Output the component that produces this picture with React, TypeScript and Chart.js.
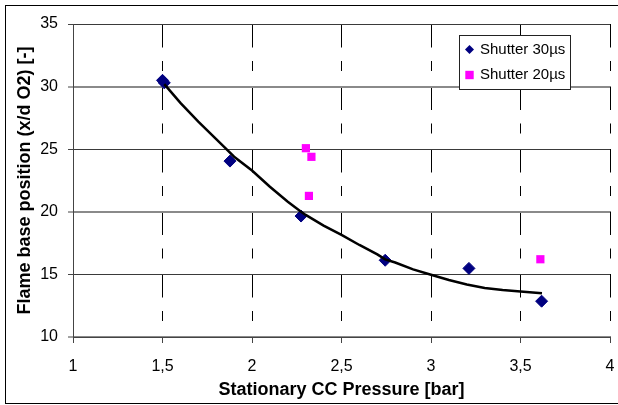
import React, { useEffect, useRef } from 'react';
import { Chart, registerables } from 'chart.js';

Chart.register(...registerables);

// ---- data ----
const seriesLabels = ['Shutter 30µs', 'Shutter 20µs'];
const shutter30X = [1.5, 1.51, 1.877, 2.274, 2.744, 3.212, 3.618];
const shutter30Y = [30.5, 30.3, 24.05, 19.66, 16.13, 15.48, 12.86];
const shutter20X = [2.301, 2.332, 2.318, 3.611];
const shutter20Y = [25.08, 24.39, 21.27, 16.21];
const trendX = [1.51, 1.6, 1.7, 1.8, 1.85, 1.9, 2.0, 2.1, 2.2, 2.274, 2.3, 2.4, 2.5, 2.6, 2.7, 2.744, 2.8, 2.9, 3.0, 3.1, 3.2, 3.3, 3.4, 3.5, 3.62];
const trendY = [30.2, 28.7, 27.2, 25.8, 25.1, 24.4, 23.3, 22.0, 20.8, 20.0, 19.75, 18.9, 18.15, 17.35, 16.6, 16.2, 15.95, 15.4, 14.97, 14.55, 14.2, 13.92, 13.75, 13.64, 13.5];
const xTicks = [1, 1.5, 2, 2.5, 3, 3.5, 4];
const yTicks = [10, 15, 20, 25, 30, 35];
const xTitle = 'Stationary CC Pressure [bar]';
const yTitle = 'Flame base position (x/d O2) [-]';

const FONT = '"Liberation Sans", Arial, sans-serif';
const NAVY = '#000080';
const MAGENTA = '#FF00FF';

const toPts = (xs: number[], ys: number[]) => xs.map((x, i) => ({ x, y: ys[i] }));

const framePlugin = {
  id: 'frameAndLegend',
  afterDraw(chart: any) {
    const ctx = chart.ctx as CanvasRenderingContext2D;
    ctx.save();
    ctx.setLineDash([]);
    // outer frame
    ctx.strokeStyle = '#000';
    ctx.lineWidth = 1;
    ctx.strokeRect(5.5, 5.5, 640, 398);
    // legend box
    const lx = 459.5, ly = 35.5, lw = 111, lh = 54;
    ctx.fillStyle = '#fff';
    ctx.fillRect(lx, ly, lw, lh);
    ctx.strokeStyle = '#222';
    ctx.strokeRect(lx, ly, lw, lh);
    // diamond
    const cx = 469.5;
    const y1 = 49.5, y2 = 75;
    ctx.fillStyle = NAVY;
    ctx.beginPath();
    ctx.moveTo(cx, y1 - 4.5);
    ctx.lineTo(cx + 4.5, y1);
    ctx.lineTo(cx, y1 + 4.5);
    ctx.lineTo(cx - 4.5, y1);
    ctx.closePath();
    ctx.fill();
    // square
    ctx.fillStyle = MAGENTA;
    ctx.fillRect(cx - 4.2, y2 - 4.2, 8.4, 8.4);
    // texts
    ctx.fillStyle = '#000';
    ctx.font = `15px ${FONT}`;
    ctx.textBaseline = 'middle';
    ctx.textAlign = 'left';
    ctx.fillText(seriesLabels[0], 480, y1);
    ctx.fillText(seriesLabels[1], 480, y2);
    ctx.restore();
  },
};

export default function App() {
  const ref = useRef<HTMLCanvasElement>(null);
  useEffect(() => {
    const chart = new Chart(ref.current as HTMLCanvasElement, {
      type: 'scatter',
      data: {
        datasets: [
          {
            label: 'trend',
            data: toPts(trendX, trendY),
            showLine: true,
            borderColor: '#000',
            borderWidth: 2.5,
            pointRadius: 0,
            tension: 0,
            order: 0,
          } as any,
          {
            label: seriesLabels[0],
            data: toPts(shutter30X, shutter30Y),
            pointStyle: 'rectRot',
            pointRadius: 6,
            backgroundColor: NAVY,
            borderColor: NAVY,
            borderWidth: 1,
            order: 1,
          },
          {
            label: seriesLabels[1],
            data: toPts(shutter20X, shutter20Y),
            pointStyle: 'rect',
            pointRadius: 5.8,
            backgroundColor: MAGENTA,
            borderColor: MAGENTA,
            borderWidth: 0,
            order: 2,
          },
        ],
      },
      options: {
        animation: false,
        responsive: false,
        layout: { padding: { left: 0, right: 8, top: 24, bottom: 0 } },
        plugins: { legend: { display: false }, tooltip: { enabled: false } },
        scales: {
          x: {
            type: 'linear',
            min: 1,
            max: 4,
            afterBuildTicks: (s: any) => {
              s.ticks = xTicks.map((v) => ({ value: v }));
            },
            afterFit: (s: any) => {
              s.height = 68;
              s.paddingLeft = 0;
              s.paddingRight = 0;
            },
            ticks: {
              callback: (v: any) => String(v).replace('.', ','),
              font: { family: FONT, size: 16 },
              color: '#000',
              padding: 14,
              maxRotation: 0,
              autoSkip: false,
            },
            grid: {
              color: '#000',
              lineWidth: 1,
              tickBorderDash: [],
              tickColor: '#444',
              tickLength: 6,
            } as any,
            border: { display: true, color: '#444', width: 1, dash: [23.5, 13.5, 10, 15.5] },
            title: {
              display: true,
              text: xTitle,
              font: { family: FONT, size: 18, weight: 'bold' },
              color: '#000',
              padding: { top: 0, bottom: 4 },
            },
          },
          y: {
            type: 'linear',
            min: 10,
            max: 35,
            afterBuildTicks: (s: any) => {
              s.ticks = yTicks.map((v) => ({ value: v }));
            },
            afterFit: (s: any) => {
              s.width = 73;
              s.paddingTop = 0;
              s.paddingBottom = 0;
            },
            ticks: {
              font: { family: FONT, size: 16 },
              color: '#000',
              padding: 10,
            },
            grid: {
              color: (c: any) => (c.tick && c.tick.value % 10 === 0 ? '#8a8a8a' : '#3a3a3a'),
              lineWidth: (c: any) => (c.tick && c.tick.value % 10 === 0 ? 2 : 1),
              tickColor: '#444',
              tickWidth: 1,
              tickLength: 5,
            },
            border: { display: true, color: '#444', width: 1 },
            title: {
              display: true,
              text: yTitle,
              font: { family: FONT, size: 18, weight: 'bold' },
              color: '#000',
              padding: { top: 14, bottom: 0 },
            },
          },
        },
      },
      plugins: [framePlugin],
    });
    return () => chart.destroy();
  }, []);
  return (
    <div style={{ position: 'fixed', left: 0, top: 0, width: 618, height: 405, background: '#fff' }}>
      <canvas ref={ref} width={618} height={405} style={{ display: 'block', width: 618, height: 405 }} />
    </div>
  );
}
